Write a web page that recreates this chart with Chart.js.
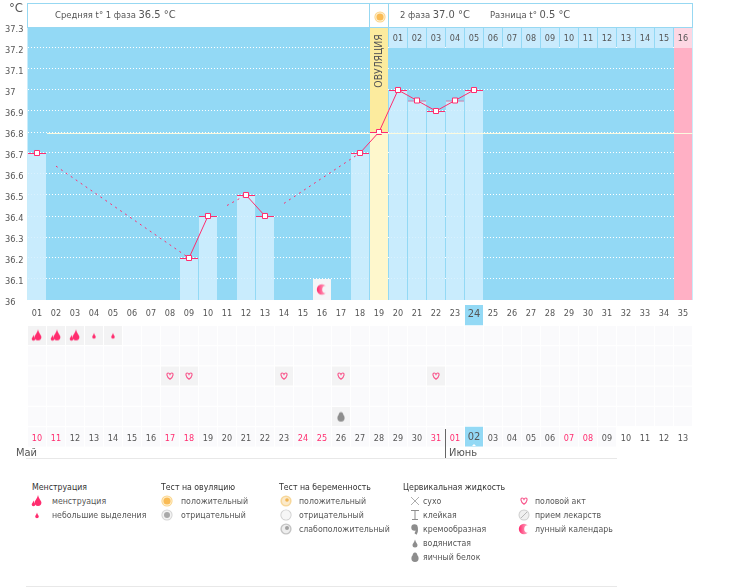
<!DOCTYPE html>
<html lang="ru">
<head>
<meta charset="UTF-8">
<title>График базальной температуры</title>
<script src="https://cdn.jsdelivr.net/npm/chart.js"></script>
<style>
    body { margin: 0; background: #fff; font-family: "DejaVu Sans Condensed", sans-serif; font-size: 9.4px; color: #555; }
    #page { position: relative; width: 730px; height: 587px; overflow: hidden; }
    canvas { position: absolute; left: 0; }
    .box { position: absolute; top: 3px; height: 23px; background: #fff; border: 1px solid #97d8f2; }
    .txt { position: absolute; white-space: nowrap; line-height: 14px; }
    .big { font-size: 11px; }
    .rule { position: absolute; background: #e8e8e8; height: 1px; left: 26px; width: 591px; }
    #ovu { position: absolute; left: 351px; top: 54px; width: 54px; height: 14px; line-height: 14px; text-align: center;
           transform: rotate(-90deg); font-size: 10.3px; color: #555; }
    #legend .txt { font-size: 8.7px; }
    #legend .title { color: #333; }
</style>
</head>
<body>
<div id="page">
    <canvas id="tempChart" width="730" height="312" style="top:0"></canvas>
    <canvas id="calChart" width="730" height="160" style="top:300px"></canvas>

    <div class="txt" style="left:9px;top:1px;font-size:13px">°C</div>
    <div class="box" style="left:27px;width:341px"></div>
    <div class="box" style="left:369px;width:18px" id="sun"></div>
    <div class="box" style="left:388px;width:303px"></div>
    <div class="txt" style="left:55px;top:8px">Средняя t° 1 фаза <span class="big">36.5 °C</span></div>
    <div class="txt" style="left:400px;top:8px">2 фаза <span class="big">37.0 °C</span></div>
    <div class="txt" style="left:490px;top:8px">Разница t° <span class="big">0.5 °C</span></div>
    <div id="ovu">ОВУЛЯЦИЯ</div>

    <div style="position:absolute;left:445px;top:429px;width:1px;height:29px;background:#666"></div>
    <div style="position:absolute;left:472px;top:444px;border:2px solid transparent;border-bottom-color:#fff;border-top:0"></div>
    <div class="txt big" style="left:16px;top:446px">Май</div>
    <div class="txt big" style="left:449px;top:446px">Июнь</div>
    <div class="rule" style="top:458px"></div>
    <div class="rule" style="top:586px"></div>
    <div id="legend"></div>
</div>

<script>
    // cycle days and calendar dates
    const days = ['01','02','03','04','05','06','07','08','09','10','11','12','13','14','15','16','17','18',
                  '19','20','21','22','23','24','25','26','27','28','29','30','31','32','33','34','35'];
    const dates = ['10','11','12','13','14','15','16','17','18','19','20','21','22','23','24','25','26','27','28','29','30','31',
                   '01','02','03','04','05','06','07','08','09','10','11','12','13'];
    const redDates = [0,1,7,8,14,15,21,22,28,29];
    const yTicks = [37.3,37.2,37.1,37,36.9,36.8,36.7,36.6,36.5,36.4,36.3,36.2,36.1,36];

    // measured temperature per day
    const temperatures = [36.7,null,null,null,null,null,null,null,36.2,36.4,null,36.5,36.4,null,null,null,null,36.7,
                          36.8,37,36.95,36.9,36.95,37,null,null,null,null,null,null,null,null,null,null,null];
    const coverLine = 36.8;

    const ovulationDay = '19';
    const phase2Labels = ['01','02','03','04','05','06','07','08','09','10','11','12','13','14','15','16'];
    const nextPeriodDay = '35';
    const todayDay = '24';

    // calendar marks
    const heavyFlowDays = ['01','02','03'];
    const lightFlowDays = ['04','05'];
    const intercourseDays = ['08','09','14','17','22'];
    const eggWhiteDays = ['17'];
    const moonDays = ['16'];

    const PINK = '#ff2d6f';
    const BLUE = '#93d9f5';
    const FONT = '"DejaVu Sans Condensed", sans-serif';

    function newIcon(draw) {
        const c = document.createElement('canvas');
        c.width = 16; c.height = 16;
        draw(c.getContext('2d'));
        return c;
    }
    function drop(g, x, y, r, color) {
        g.fillStyle = color;
        g.beginPath();
        g.moveTo(x, y - 2.2 * r);
        g.bezierCurveTo(x + .3 * r, y - r, x + r, y - .5 * r, x + r, y);
        g.arc(x, y, r, 0, Math.PI);
        g.bezierCurveTo(x - r, y - .5 * r, x - .3 * r, y - r, x, y - 2.2 * r);
        g.fill();
    }
    function disc(g, x, y, r, color) {
        g.fillStyle = color;
        g.beginPath();
        g.arc(x, y, r, 0, Math.PI * 2);
        g.fill();
    }
    const icons = {
        heavy: newIcon(g => { drop(g, 9, 9.5, 3.4, PINK); drop(g, 4.5, 11.5, 1.8, PINK); }),
        light: newIcon(g => drop(g, 8, 9.5, 1.8, PINK)),
        heart: newIcon(g => {
            g.strokeStyle = '#f8538a'; g.lineWidth = 1.1;
            g.beginPath();
            g.moveTo(8, 11.2);
            g.bezierCurveTo(4.2, 8.5, 4.4, 5, 6.2, 5);
            g.bezierCurveTo(7, 5, 7.6, 5.6, 8, 6.4);
            g.bezierCurveTo(8.4, 5.6, 9, 5, 9.8, 5);
            g.bezierCurveTo(11.6, 5, 11.8, 8.5, 8, 11.2);
            g.stroke();
        }),
        moon: newIcon(g => {
            const gr = g.createLinearGradient(3, 0, 12, 0);
            gr.addColorStop(0, PINK); gr.addColorStop(1, '#ffb4ca');
            disc(g, 8, 8, 5.2, gr);
            g.globalCompositeOperation = 'destination-out';
            disc(g, 12, 8, 3.8, '#000');
        }),
        egg: newIcon(g => {
            g.fillStyle = '#8d8d8d';
            g.beginPath();
            g.ellipse(8, 9.2, 3.6, 3.8, 0, 0, Math.PI * 2);
            g.ellipse(8, 7, 2.4, 3.6, 0, 0, Math.PI * 2);
            g.fill();
        }),
        watery: newIcon(g => drop(g, 8, 10, 2.5, '#8d8d8d')),
        creamy: newIcon(g => {
            disc(g, 7.5, 6.5, 3.2, '#8d8d8d');
            g.strokeStyle = '#8d8d8d'; g.lineWidth = 2.4;
            g.beginPath(); g.moveTo(9.4, 6.5); g.quadraticCurveTo(10.5, 10, 8.5, 13); g.stroke();
        }),
        sticky: newIcon(g => {
            g.fillStyle = '#8d8d8d';
            g.fillRect(4, 3, 8, 1); g.fillRect(7.5, 4, 1, 8); g.fillRect(5, 12, 6, 1);
        }),
        dry: newIcon(g => {
            g.strokeStyle = '#999'; g.lineWidth = .8;
            g.beginPath(); g.moveTo(4, 4); g.lineTo(12, 12); g.moveTo(12, 4); g.lineTo(4, 12); g.stroke();
        }),
        ovuPos: newIcon(g => { disc(g, 8, 8, 5.6, '#fbd58b'); disc(g, 8, 8, 4.6, '#fff3d6'); disc(g, 8, 8, 3.6, '#f9bb55'); }),
        ovuNeg: newIcon(g => { disc(g, 8, 8, 5.6, '#d5d5d5'); disc(g, 8, 8, 4.6, '#f3f3f3'); disc(g, 8, 8, 3, '#a9a9a9'); }),
        pregPos: newIcon(g => { disc(g, 8, 8, 5.6, '#f7d79a'); disc(g, 8, 8, 4, '#fbeacb'); disc(g, 9, 7, 1.8, '#f2b552'); }),
        pregNeg: newIcon(g => { disc(g, 8, 8, 5.6, '#cfcfcf'); disc(g, 8, 8, 4.7, '#f6f6f6'); }),
        pregWeak: newIcon(g => { disc(g, 8, 8, 5.6, '#c4c4c4'); disc(g, 8, 8, 4.2, '#eeeeee'); disc(g, 9, 7, 2, '#a2a2a2'); }),
        pill: newIcon(g => {
            disc(g, 8, 8, 5.5, '#cfcfcf'); disc(g, 8, 8, 4.5, '#f0f0f0');
            g.strokeStyle = '#aaa'; g.lineWidth = .8;
            g.beginPath(); g.moveTo(5, 11); g.lineTo(11, 5); g.stroke();
        })
    };

    // temperature chart background and a few overlay marks
    const tempPlugin = {
        id: 'tempExtras',
        beforeDraw(chart) {
            const a = chart.chartArea;
            chart.ctx.fillStyle = BLUE;
            chart.ctx.fillRect(a.left, a.top, a.width, a.bottom - a.top);
        },
        afterDatasetsDraw(chart) {
            const g = chart.ctx, x = chart.scales.x, y = chart.scales.y;
            // cover line starts after the first bar
            const ly = Math.round(y.getPixelForValue(coverLine)) + 1.5;
            g.strokeStyle = '#fbfadf'; g.lineWidth = 1;
            g.beginPath();
            g.moveTo(x.getPixelForValue(days[0]) + 10, ly);
            g.lineTo(chart.chartArea.right, ly);
            g.stroke();
            // day numbers of the second phase
            g.font = '9px ' + FONT; g.fillStyle = '#555'; g.textAlign = 'center'; g.textBaseline = 'middle';
            const first = days.indexOf(ovulationDay) + 1;
            phase2Labels.forEach((t, i) => g.fillText(t, x.getPixelForValue(days[first + i]), y.getPixelForValue(37.25) + 1));
        }
    };

    // missed days get a dashed line, which only starts from the next day
    function gapDash(ctx) {
        if (!ctx.p0.skip && !ctx.p1.skip) return undefined;
        let a = ctx.p0DataIndex, b = ctx.p1DataIndex;
        while (a > 0 && temperatures[a] === null) a--;
        while (b < temperatures.length - 1 && temperatures[b] === null) b++;
        const sx = ctx.chart.scales.x, sy = ctx.chart.scales.y;
        const len = Math.hypot(sx.getPixelForValue(b) - sx.getPixelForValue(a),
                               sy.getPixelForValue(temperatures[b]) - sy.getPixelForValue(temperatures[a]));
        const dash = [0, len / (b - a)];
        for (let i = 0; i < 60; i++) dash.push(2, 4);
        return dash;
    }

    const oneDay = (day, v) => days.map(d => d === day ? v : null);
    const barOpts = { type: 'bar', grouped: false, barPercentage: 18 / 19, categoryPercentage: 1 };

    new Chart(document.getElementById('tempChart').getContext('2d'), {
        data: {
            labels: days,
            datasets: [
                {
                    type: 'line',
                    data: temperatures,
                    order: 0,
                    spanGaps: true,
                    borderColor: PINK,
                    borderWidth: 1,
                    tension: 0,
                    pointStyle: 'rect',
                    pointRadius: 3.54,
                    pointBorderWidth: 1,
                    pointBackgroundColor: '#fff',
                    pointBorderColor: PINK,
                    segment: { borderDash: gapDash }
                },
                { type: 'line', data: days.map(d => moonDays.includes(d) ? 36.05 : null), order: 1, showLine: false, pointStyle: icons.moon },
                {
                    ...barOpts,
                    data: temperatures,
                    order: 2,
                    backgroundColor: ctx => days[ctx.dataIndex] === ovulationDay ? '#fef7cc' : 'rgba(210,238,254,.85)',
                    borderColor: PINK,
                    borderWidth: { top: 1, left: 0, right: 0, bottom: 0 },
                    borderSkipped: false
                },
                { ...barOpts, data: days.map(d => moonDays.includes(d) ? [36, 36.1] : null), order: 3, backgroundColor: '#f5f5f7' },
                { ...barOpts, data: oneDay(ovulationDay, [36, 37.3]), order: 4, backgroundColor: '#fceb9e' },
                { ...barOpts, data: oneDay(nextPeriodDay, [36, 37.2]), order: 5, backgroundColor: '#ffb0c5' },
                { ...barOpts, data: oneDay(nextPeriodDay, [37.2, 37.3]), order: 6, backgroundColor: '#fdd7e3' },
                { ...barOpts, data: days.map((d, i) => i > days.indexOf(ovulationDay) && d !== nextPeriodDay ? [37.2, 37.3] : null), order: 7, backgroundColor: '#c9ebfd' }
            ]
        },
        options: {
            responsive: false,
            animation: false,
            layout: { padding: { left: 5, right: 37.5, top: 27, bottom: 12 } },
            plugins: { legend: { display: false }, tooltip: { enabled: false } },
            scales: {
                x: { display: false, offset: true },
                y: {
                    min: 36, max: 37.3,
                    afterFit: s => { s.width = 22.5; },
                    afterBuildTicks: s => { s.ticks = yTicks.map(v => ({ value: v })); },
                    grid: { color: '#fff', drawTicks: false },
                    border: { display: false, dash: [1, 2] },
                    ticks: {
                        crossAlign: 'far', color: '#555', padding: 0, labelOffset: 2.5,
                        callback: v => String(v),
                        font: { family: FONT, size: 9.2 }
                    }
                }
            }
        },
        plugins: [tempPlugin]
    });

    // calendar part, one row per kind of note: 0 day numbers, 1-5 notes, 6 dates
    const cellRow = (row, marks) => ({
        ...barOpts,
        order: 20,
        data: days.map(() => [row + .03, row + .97]),
        backgroundColor: ctx => marks.includes(days[ctx.dataIndex]) ? '#f3f3f4' : '#fafafc'
    });
    const iconRow = (row, list, icon) => ({
        type: 'line', order: 1, showLine: false, pointStyle: icon,
        data: days.map(d => list.includes(d) ? row + .5 : null)
    });
    const todayFont = ctx => ({ family: FONT, size: days[ctx.index] === todayDay ? 11 : 9 });

    new Chart(document.getElementById('calChart').getContext('2d'), {
        data: {
            labels: days,
            datasets: [
                iconRow(1, heavyFlowDays, icons.heavy),
                iconRow(1, lightFlowDays, icons.light),
                iconRow(3, intercourseDays, icons.heart),
                iconRow(5, eggWhiteDays, icons.egg),
                { ...barOpts, order: 10, data: oneDay(todayDay, [0, 1]), backgroundColor: BLUE },
                { ...barOpts, order: 10, data: oneDay(todayDay, [6, 6.97]), backgroundColor: BLUE },
                cellRow(1, heavyFlowDays.concat(lightFlowDays)),
                cellRow(2, []),
                cellRow(3, intercourseDays),
                cellRow(4, []),
                cellRow(5, eggWhiteDays),
                { ...barOpts, order: 20, data: days.map(d => d <= '31' ? [6.03, 6.97] : null), backgroundColor: '#fafafc' }
            ]
        },
        options: {
            responsive: false,
            animation: false,
            layout: { padding: { left: 27.5, right: 37.5, top: 1, bottom: 13 } },
            plugins: { legend: { display: false }, tooltip: { enabled: false } },
            scales: {
                x: {
                    position: 'top', offset: true,
                    afterFit: s => { s.height = 0; },
                    grid: { display: false, drawTicks: false },
                    border: { display: false },
                    ticks: { z: 1, mirror: true, autoSkip: false, maxRotation: 0, padding: 3, color: '#555', font: todayFont }
                },
                xDate: {
                    type: 'category', axis: 'x', position: 'bottom', offset: true, labels: dates,
                    afterFit: s => { s.height = 0; },
                    grid: { display: false, drawTicks: false },
                    border: { display: false },
                    ticks: {
                        z: 1, mirror: true, autoSkip: false, maxRotation: 0, padding: 3,
                        color: ctx => redDates.includes(ctx.index) ? PINK : '#555',
                        font: todayFont
                    }
                },
                y: { display: false, min: 0, max: 7, reverse: true }
            }
        }
    });

    // legend under the chart
    const legendGroups = [
        { title: 'Менструация', x: 32, iconX: 37, textX: 52, items: [['heavy', 'менструация'], ['light', 'небольшие выделения']] },
        { title: 'Тест на овуляцию', x: 161, iconX: 167, textX: 181, items: [['ovuPos', 'положительный'], ['ovuNeg', 'отрицательный']] },
        { title: 'Тест на беременность', x: 279, iconX: 286, textX: 299, items: [['pregPos', 'положительный'], ['pregNeg', 'отрицательный'], ['pregWeak', 'слабоположительный']] },
        { title: 'Цервикальная жидкость', x: 403, iconX: 415, textX: 423, items: [['dry', 'сухо'], ['sticky', 'клейкая'], ['creamy', 'кремообразная'], ['watery', 'водянистая'], ['egg', 'яичный белок']] },
        { title: '', x: 0, iconX: 524, textX: 535, items: [['heart', 'половой акт'], ['pill', 'прием лекарств'], ['moon', 'лунный календарь']] }
    ];
    const legend = document.getElementById('legend');
    function addText(text, x, y, cls) {
        const d = document.createElement('div');
        d.className = 'txt ' + cls;
        d.textContent = text;
        d.style.left = x + 'px';
        d.style.top = (y - 7) + 'px';
        legend.appendChild(d);
    }
    function addIcon(name, x, y, parent) {
        const c = document.createElement('canvas');
        c.width = 16; c.height = 16;
        c.getContext('2d').drawImage(icons[name], 0, 0);
        c.style.left = (x - 8) + 'px';
        c.style.top = (y - 8) + 'px';
        parent.appendChild(c);
    }
    legendGroups.forEach(g => {
        if (g.title) addText(g.title, g.x, 487, 'title');
        g.items.forEach((it, i) => {
            addIcon(it[0], g.iconX, 501 + i * 14, legend);
            addText(it[1], g.textX, 501 + i * 14, '');
        });
    });
    addIcon('ovuPos', 9.5, 12.5, document.getElementById('sun'));
</script>
</body>
</html>
